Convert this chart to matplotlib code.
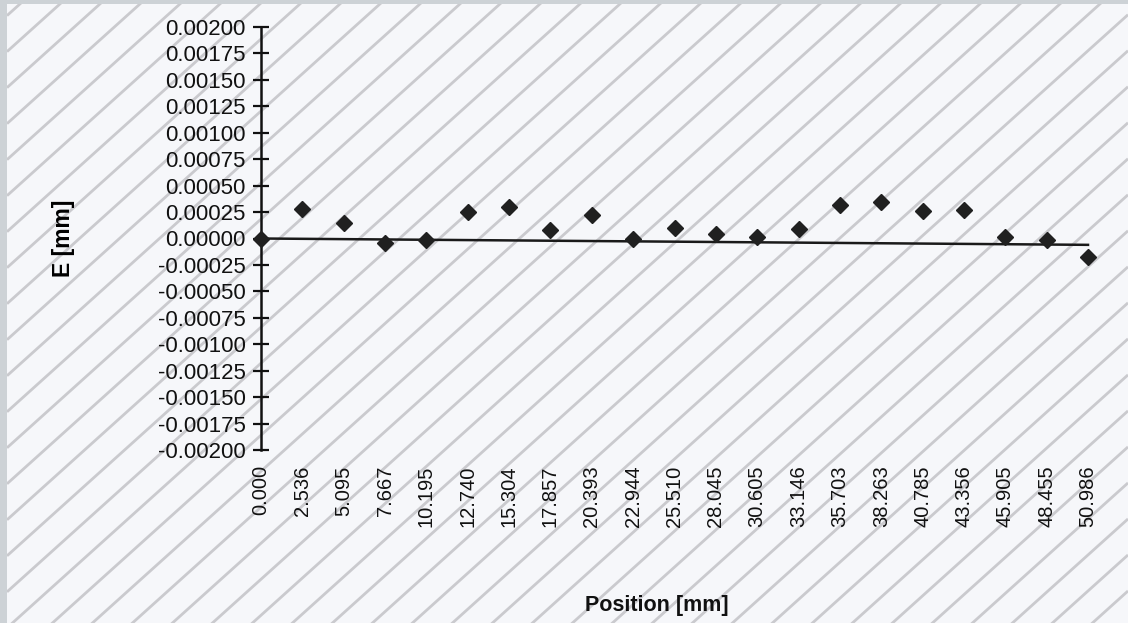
import numpy as np
import matplotlib
matplotlib.use('Agg')
import matplotlib.pyplot as plt
from matplotlib.patches import Rectangle

# data
positions = ['0.000', '2.536', '5.095', '7.667', '10.195', '12.740', '15.304',
             '17.857', '20.393', '22.944', '25.510', '28.045', '30.605', '33.146',
             '35.703', '38.263', '40.785', '43.356', '45.905', '48.455', '50.986']
error_mm = [0.0, 0.000276, 0.000149, -0.000045, -0.000014, 0.000248, 0.000295,
            0.000080, 0.000225, -0.000005, 0.000096, 0.000043, 0.000017, 0.000093,
            0.000317, 0.000345, 0.000260, 0.000270, 0.000011, -0.000014, -0.000178]
trend_idx = [0, 20]
trend_mm = [0.0, -0.00006]
y_ticks = np.arange(-0.002, 0.0020001, 0.00025)

W, H = 1128, 623
plt.rcParams['font.family'] = ['Liberation Sans', 'DejaVu Sans']

fig = plt.figure(figsize=(W / 100, H / 100), dpi=100)
fig.patch.set_facecolor('#cdd2d6')

# striped paper background
bg = fig.add_axes([0, 0, 1, 1])
bg.set_xlim(0, W)
bg.set_ylim(0, H)
bg.axis('off')
bg.add_patch(Rectangle((7, 0), W - 7, H - 4, facecolor='#f6f7fa',
                       edgecolor='none', zorder=0))
slope = np.tan(np.deg2rad(42))
xs = np.array([7, W])
for c in np.arange(-slope * W - 40, H + 40, 40 * slope):
    ln, = bg.plot(xs, slope * xs + c, color='#cacace', lw=2.0,
                  solid_capstyle='butt', zorder=1)
    ln.set_clip_path(bg.patches[0])

ax_l, ax_r = 261 / W, 1088 / W
ax_b, ax_t = (H - 450) / H, (H - 27) / H
ax = fig.add_axes([ax_l, ax_b, ax_r - ax_l, ax_t - ax_b])
ax.patch.set_visible(False)

x = np.arange(len(positions))
ax.plot(trend_idx, trend_mm, color='#1a1a1a', lw=1.8, zorder=2, clip_on=False)
ax.plot(x, error_mm, linestyle='none', marker='D', markersize=8.5,
        color='#202020', zorder=3, clip_on=False)

ax.set_xlim(0, len(positions) - 1)
ax.set_ylim(-0.002, 0.002)
ax.set_yticks(y_ticks)
ax.set_yticklabels([f'{v:.5f}' if abs(v) > 1e-12 else '0.00000' for v in y_ticks])
ax.set_xticks(x)
ax.set_xticklabels(positions, rotation=90)

for side in ['top', 'right', 'bottom']:
    ax.spines[side].set_visible(False)
ax.spines['left'].set_linewidth(1.8)
ax.spines['left'].set_color('#111111')
ax.tick_params(axis='y', direction='inout', length=12, width=1.6, pad=5,
               labelsize=16, colors='#111111')
ax.tick_params(axis='x', length=0, pad=11, labelsize=14.5, colors='#111111')

ax.set_ylabel('E [mm]', fontsize=16.5, fontweight='bold')
ax.yaxis.set_label_coords((75 - 261) / (1088 - 261), 0.5)
fig.text(657 / W, 1 - 606 / H, 'Position [mm]', fontsize=15.5, fontweight='bold',
         ha='center', va='center', color='#111111')

plt.savefig('out.png', dpi=100)
